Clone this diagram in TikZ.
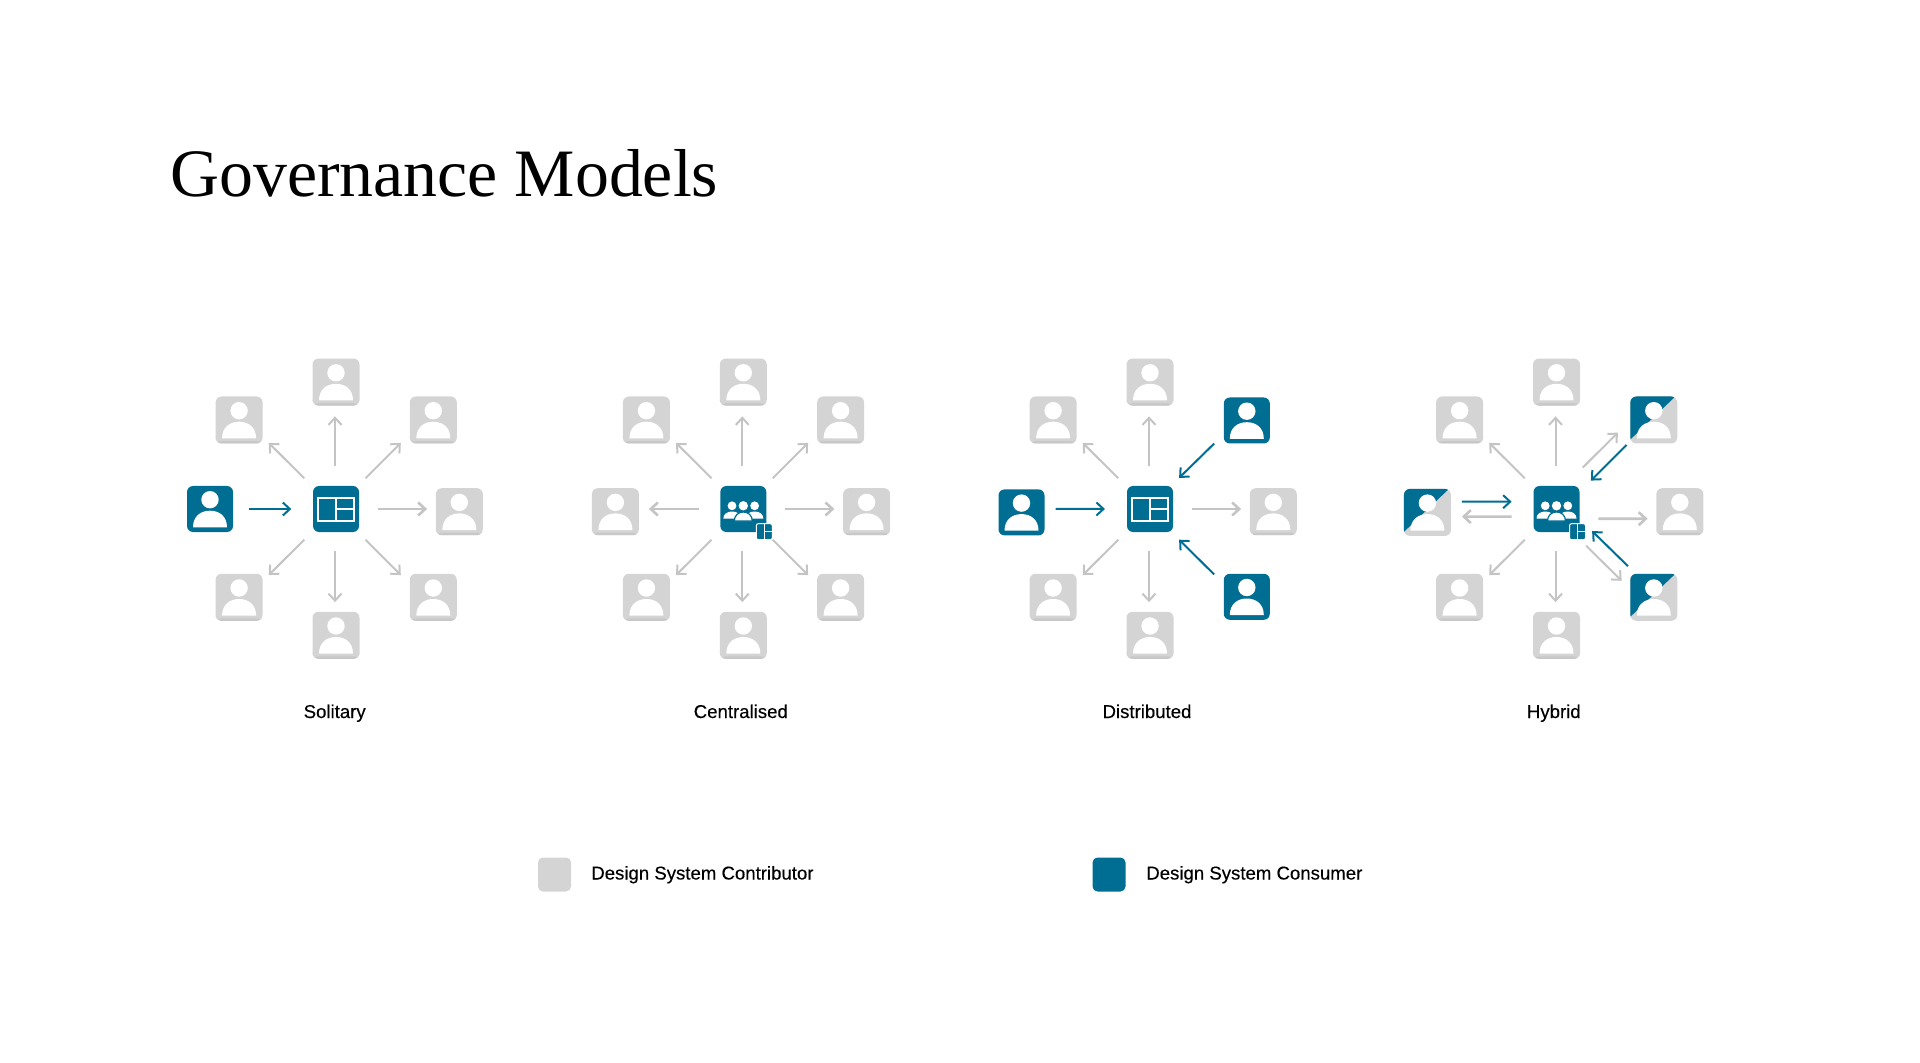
\documentclass[tikz,border=0pt]{standalone}
\usepackage{fontspec}
\setmainfont{Liberation Serif}
\newfontfamily\labelfont[FakeBold=0.3]{Liberation Sans}
\usetikzlibrary{positioning,arrows.meta}
\definecolor{dsblue}{HTML}{006E93}
\definecolor{dsgray}{HTML}{D4D4D4}
\definecolor{dsedge}{HTML}{C8C8C8}
\definecolor{dsarrow}{HTML}{C4C4C4}
\newcommand{\personicon}{\begin{scope}[shift={(path picture bounding box.center)},sharp corners]
  \fill[white] (0,-9.3) circle (8.7);
  \fill[white] (-17,18.3) .. controls (-17,7) and (-9,1.7) .. (0,1.7) .. controls (9,1.7) and (17,7) .. (17,18.3) -- cycle;
\end{scope}}
\newcommand{\windowicon}[2]{\begin{scope}[shift={(path picture bounding box.center)},sharp corners,scale=#1,draw=white,line width=#2]
  \draw (-18,-11.5) rectangle (18,11.5);
  \draw (0,-11.5) -- (0,11.5) (0,0) -- (18,0);
\end{scope}}
\newcommand{\teamicon}{\begin{scope}[shift={(path picture bounding box.center)},sharp corners]
  \fill[white] (-11.3,-3.2) circle (4.4) (11.3,-3.2) circle (4.4) (0,-3.2) circle (4.7);
  \fill[white] (-20,9.5) .. controls (-20,5) and (-16,2.5) .. (-11.3,2.5) .. controls (-6,2.5) and (-3,5) .. (-3,9.5) -- cycle;
  \fill[white] (20,9.5) .. controls (20,5) and (16,2.5) .. (11.3,2.5) .. controls (6,2.5) and (3,5) .. (3,9.5) -- cycle;
  \filldraw[white,draw=dsblue,line width=0.6pt] (-9,12) .. controls (-9,6.5) and (-5,3) .. (0,3) .. controls (5,3) and (9,6.5) .. (9,12) -- cycle;
\end{scope}}
\tikzset{
x=0.5pt,y=-0.5pt,
box/.style={
rectangle,
inner sep=0pt,
minimum size=23.5pt,rounded corners=3pt},
contributor/.style={box,fill=dsgray,path picture={
  \fill[dsedge] ([yshift=1.2pt]path picture bounding box.south west) rectangle (path picture bounding box.south east);
  \personicon}},
consumer/.style={box,fill=dsblue,minimum size=23pt,path picture={\personicon}},
mixed/.style={box,fill=dsgray,path picture={
  \fill[dsblue,sharp corners] (path picture bounding box.north west) -- ([xshift=-1pt]path picture bounding box.north east) -- ([yshift=2pt]path picture bounding box.south west) -- cycle;
  \personicon}},
windowhub/.style={box,fill=dsblue,minimum size=23pt,path picture={\windowicon{1}{1pt}}},
teamhub/.style={box,fill=dsblue,minimum size=23pt,path picture={\teamicon}},
badge/.style={box,fill=dsblue,draw=white,line width=0.5pt,minimum size=8pt,rounded corners=1pt,path picture={\windowicon{0.33}{0.45pt}}},
swatch/.style={rectangle,inner sep=0pt,minimum width=16.5pt,minimum height=17pt,rounded corners=2.5pt},
caption/.style={font={\labelfont\fontsize{9.3pt}{11pt}\selectfont},inner sep=0pt,text height=7pt,text depth=2pt},
grayline/.style={draw=dsarrow,line width=1pt,-{Straight Barb[length=3.5pt,width=6.5pt]}},
blueline/.style={draw=dsblue,line width=1pt,-{Straight Barb[length=3.5pt,width=6.5pt]}}
}
\begin{document}
\begin{tikzpicture}
  \useasboundingbox (0,0) rectangle (1920,1063);
  \node[anchor=base west,inner sep=0pt,font={\fontsize{33.9pt}{40pt}\selectfont}] (title) at (170,197) {Governance Models};
  \foreach \m/\x/\core/\urstyle/\lrstyle/\lstyle/\lgap/\ldrop/\capx/\capname in {
    sol/336/windowhub/contributor/contributor/consumer/39.6pt/0pt/334.7/Solitary,
    cen/743.3/teamhub/contributor/contributor/contributor/40.3pt/-1.35pt/740.8/Centralised,
    dis/1150/windowhub/consumer/consumer/consumer/40.85pt/-1.7pt/1147/Distributed,
    hyb/1556.5/teamhub/mixed/mixed/mixed/40.9pt/-1.7pt/1553.8/Hybrid}{
    \node[\core] (\m) at (\x,509) {};
    \node[contributor, above=39.8pt of \m] (\m-t) {};
    \node[contributor, below=39.5pt of \m] (\m-b) {};
    \node[contributor, above left=20.85pt and 24.8pt of \m] (\m-ul) {};
    \node[contributor, below left=20.5pt and 24.8pt of \m] (\m-ll) {};
    \node[\urstyle, above right=20.85pt and 25pt of \m] (\m-ur) {};
    \node[\lrstyle, below right=20.5pt and 25pt of \m] (\m-lr) {};
    \node[contributor, right=38pt of \m, yshift=-1.35pt] (\m-r) {};
    \node[\lstyle, left=\lgap of \m, yshift=\ldrop] (\m-l) {};
    \node[caption] (\m-cap) at (\capx,713) {\capname};
    % arrows every model has
    \draw[grayline] ([shift={(-1,-19.3)}] \m.north) -- ([shift={(-1,10.4)}] \m-t.south);
    \draw[grayline] ([shift={(-1,18.3)}] \m.south) -- ([shift={(-1,-9.3)}] \m-b.north);
    \draw[grayline] ([shift={(-8.3,-7.3)}] \m.north west) -- ([shift={(5.7,-1)}] \m-ul.south east);
    \draw[grayline] ([shift={(-8.3,7.3)}] \m.south west) -- ([shift={(5.7,1.7)}] \m-ll.north east);
  }
  % solitary
  \draw[blueline] ([xshift=8pt,yshift=0pt] sol-l.east) -- ([shift={(-21.3,0)}] sol.west);
  \draw[grayline,line width=1.3pt] ([shift={(18.3,0)}] sol.east) -- ([shift={(-8.3,-2.7)}] sol-r.west);
  \draw[grayline] ([shift={(6,-7.3)}] sol.north east) -- ([shift={(-8.6,-1)}] sol-ur.south west);
  \draw[grayline] ([shift={(6,7.3)}] sol.south east) -- ([shift={(-8.6,1.7)}] sol-lr.north west);
  % centralised
  \draw[grayline,line width=1.3pt] ([shift={(-21,0)}] cen.west) -- ([shift={(9.6,-2.7)}] cen-l.east);
  \draw[grayline,line width=1.3pt] ([shift={(18.3,0)}] cen.east) -- ([shift={(-8.3,-2.7)}] cen-r.west);
  \draw[grayline] ([shift={(6,-7.3)}] cen.north east) -- ([shift={(-8.6,-1)}] cen-ur.south west);
  \draw[grayline] ([shift={(6,7.3)}] cen.south east) -- ([shift={(-8.6,1.7)}] cen-lr.north west);
  % distributed
  \draw[blueline] ([shift={(10.7,-3.5)}] dis-l.east) -- ([shift={(-21.7,0)}] dis.west);
  \draw[grayline,line width=1.3pt] ([shift={(18.3,0)}] dis.east) -- ([shift={(-8.3,-2.7)}] dis-r.west);
  \draw[blueline] ([shift={(-9.3,-0.3)}] dis-ur.south west) -- ([shift={(5.7,-7.7)}] dis.north east);
  \draw[blueline] ([shift={(-9.3,1)}] dis-lr.north west) -- ([shift={(5.7,7.3)}] dis.south east);
  % hybrid
  \draw[blueline] ([shift={(10.6,-10.8)}] hyb-l.east) -- ([shift={(-21.5,-7.3)}] hyb.west);
  \draw[grayline,line width=1.3pt] ([shift={(-21.5,7.7)}] hyb.west) -- ([shift={(10.6,4.2)}] hyb-l.east);
  \draw[grayline,line width=1.3pt] ([shift={(18.5,9.7)}] hyb.east) -- ([shift={(-8.3,7)}] hyb-r.west);
  \draw[grayline] ([shift={(2.8,-18)}] hyb.north east) -- ([shift={(-12,-11.3)}] hyb-ur.south west);
  \draw[blueline] ([shift={(-3.3,1)}] hyb-ur.south west) -- ([shift={(11,-5)}] hyb.north east);
  \draw[grayline] ([shift={(6.2,13.3)}] hyb.south east) -- ([shift={(-8.3,7.4)}] hyb-lr.north west);
  \draw[blueline] ([shift={(-2,-7.3)}] hyb-lr.north west) -- ([shift={(12.2,-1.3)}] hyb.south east);
  % badges go on top of the arrows
  \foreach \m in {cen,hyb}{
    \node[badge] (\m-badge) at ([shift={(21,22.7)}] \m.center) {};
  }
  % legend
  \node[swatch,fill=dsgray] (key1) at (554.5,874.5) {};
  \node[caption,right=9.75pt of key1] (key1text) {Design System Contributor};
  \node[swatch,fill=dsblue] (key2) at (1109,874.5) {};
  \node[caption,right=10pt of key2] (key2text) {Design System Consumer};
\end{tikzpicture}
\end{document}
